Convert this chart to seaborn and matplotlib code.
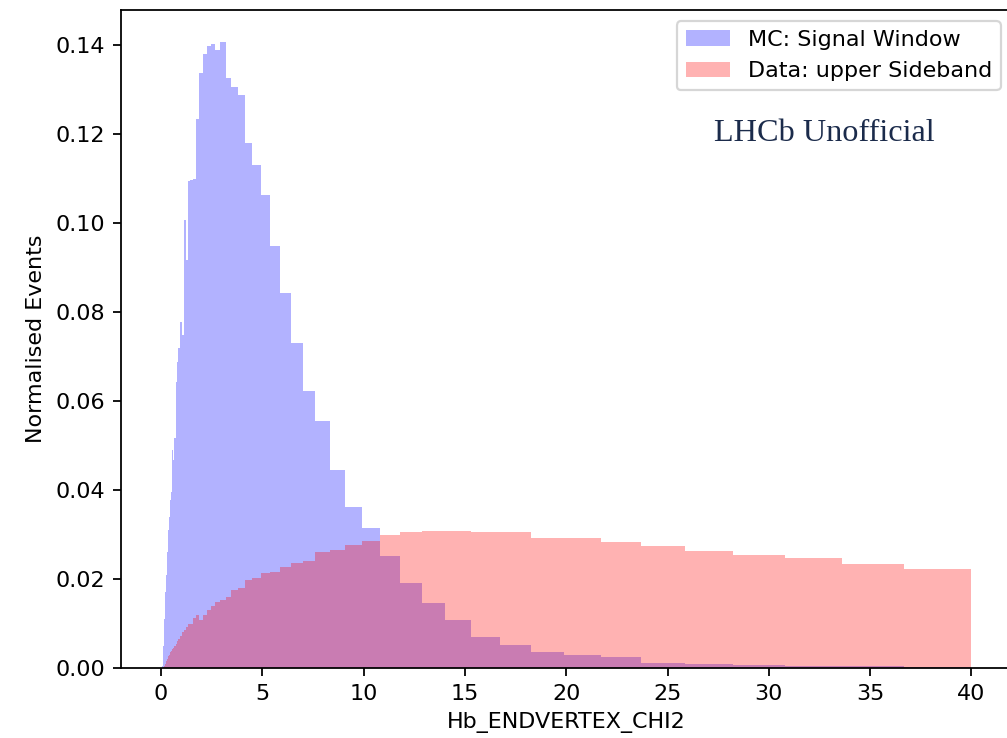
import numpy as np
import matplotlib
matplotlib.use("Agg")
import matplotlib.pyplot as plt
from matplotlib.patches import Patch
import seaborn as sns

# Log-spaced binning (bin edges): ratio ~1.091 per bin, up to 40
bin_low, bin_high, n_bins = 0.0527, 40.0, 76

# Heights per bin, listed from the highest bin (36.7-40) down to the lowest
mc_signal_window = [
    0.0002, 0.0004, 0.0005, 0.0007, 0.0009, 0.0012, 0.0024, 0.0029, 0.0037, 0.0052,
    0.0070, 0.0108, 0.0145, 0.0192, 0.0252, 0.0315, 0.0363, 0.0445, 0.0556, 0.0623,
    0.0730, 0.0843, 0.0948, 0.1064, 0.1130, 0.1181, 0.1289, 0.1305, 0.1327, 0.1407,
    0.1390, 0.1402, 0.1398, 0.1379, 0.1338, 0.1235, 0.1100, 0.1098, 0.1095, 0.0917,
    0.1008, 0.0748, 0.0778, 0.0720, 0.0688, 0.0643, 0.0518, 0.0467, 0.0490, 0.0396,
    0.0378, 0.0366, 0.0340, 0.0310, 0.0280, 0.0260, 0.0240, 0.0210, 0.0190, 0.0170,
    0.0150, 0.0130, 0.0110, 0.0090, 0.0070, 0.0060, 0.0050, 0.0040, 0.0030, 0.0020,
    0.0010, 0.0008, 0.0005, 0.0003, 0.0002, 0.0001,
]
data_upper_sideband = [
    0.0222, 0.0233, 0.0247, 0.0255, 0.0264, 0.0274, 0.0283, 0.0292, 0.0292, 0.0305,
    0.0305, 0.0309, 0.0308, 0.0305, 0.0299, 0.0286, 0.0276, 0.0265, 0.0261, 0.0241,
    0.0237, 0.0228, 0.0216, 0.0213, 0.0202, 0.0198, 0.0179, 0.0175, 0.0160, 0.0153,
    0.0149, 0.0140, 0.0130, 0.0119, 0.0108, 0.0119, 0.0112, 0.0100, 0.0098, 0.0093,
    0.0085, 0.0080, 0.0073, 0.0066, 0.0061, 0.0055, 0.0050, 0.0046, 0.0042, 0.0039,
    0.0036, 0.0033, 0.0030, 0.0027, 0.0024, 0.0021, 0.0018, 0.0015, 0.0012, 0.0010,
    0.0008, 0.0006, 0.0005, 0.0004, 0.0003, 0.0003, 0.0002, 0.0002, 0.0001, 0.0001,
    0.0001, 0.0001, 0.0, 0.0, 0.0, 0.0,
]
labels = ["MC: Signal Window", "Data: upper Sideband"]
colors = ["blue", "red"]

edges = np.geomspace(bin_low, bin_high, n_bins + 1)
centers = np.sqrt(edges[:-1] * edges[1:])
mc = np.array(mc_signal_window[::-1])
sb = np.array(data_upper_sideband[::-1])

DPI = 160
fig = plt.figure(figsize=(1007 / DPI, 738 / DPI), dpi=DPI)
ax = fig.add_axes([120.5 / 1007, 70 / 738, 891.5 / 1007, 658 / 738])

for vals, col in zip([mc, sb], colors):
    sns.histplot(x=centers, weights=vals, bins=[float(e) for e in edges], stat="count",
                 element="bars", color=col, alpha=0.3, linewidth=0, ax=ax)

ax.set_xlim(-2.0, 42.0)
ax.set_ylim(0, 0.1479)
ax.set_xlabel("Hb_ENDVERTEX_CHI2")
ax.set_ylabel("Normalised Events")

handles = [Patch(facecolor=c, alpha=0.3, label=l) for c, l in zip(colors, labels)]
ax.legend(handles=handles, loc="upper right")

ax.text(0.79, 0.813, "LHCb Unofficial", transform=ax.transAxes, ha="center",
        va="center", fontsize=14.5, family="Liberation Serif", color="#1b2b4b")

fig.savefig("out.png", dpi=DPI)
